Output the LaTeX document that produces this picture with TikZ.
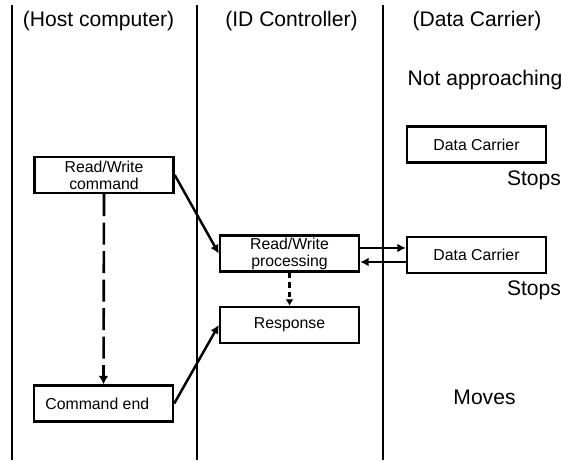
\documentclass[tikz,border=0pt]{standalone}
\usepackage{fontspec}
\setmainfont{Liberation Sans}
\usetikzlibrary{arrows.meta,calc,positioning}
\tikzset{
  box/.style={draw=black,fill=white,minimum width=2.78cm,minimum height=0.72cm,inner sep=0pt,line width=1.4pt,align=center,font=\fontsize{9}{9.7}\selectfont},
  lane/.style={black,line width=1.2pt},
  lab/.style={font=\fontsize{12}{14}\selectfont,inner sep=0pt},
  flow/.style={-{Latex[length=1.7mm,width=1.8mm]},line width=1.4pt},
  dflow/.style={-{Latex[length=1.7mm,width=2.0mm]},line width=1.5pt,dash pattern=on 4.4mm off 1.3mm},
  sflow/.style={-{Latex[length=1.3mm,width=1.6mm]},line width=1.4pt,dash pattern=on 1.1mm off 0.8mm},
}
\begin{document}
\begin{tikzpicture}[x=1cm,y=1cm]
\useasboundingbox (0,0) rectangle (11.24,9.22);
% ================= lanes =================
\foreach \x in {0.24,3.94,7.66}{
  \draw[lane] (\x,9.12) -- (\x,0.02);
}
\node[lab] (hhost) at (1.97,8.80) {(Host computer)};
\node[lab] (hctrl) at (5.83,8.80) {(ID Controller)};
\node[lab] (hcarr) at (9.54,8.80) {(Data Carrier)};

% ================= Data Carrier states =================
\node[lab] (napp) at (9.70,7.62) {Not approaching};
\node[box] (dc1) at (9.53,6.33) {Data Carrier};
\node[lab] (stop1) at (10.68,5.62) {Stops};
\node[box] (dc2) at (9.53,4.12) {Data Carrier};
\node[lab] (stop2) at (10.68,3.42) {Stops};
\node[lab] (moves) at (9.69,1.28) {Moves};

% ================= Host and controller =================
\node[box] (cmd) at (2.08,5.72) {Read/Write\\command};
\node[box] (cend) at (2.07,1.15) {Command end\hspace*{2.5mm}};
\node[box] (proc) at (5.79,4.15) {Read/Write\\processing};
\node[box] (resp) at (5.79,2.72) {Response};

% ================= connectors =================
\draw[flow] (cmd.east) -- (proc.west);
\draw[flow] ([yshift=1.4mm]dc2.west -| proc.east) -- ([yshift=1.4mm]dc2.west);
\draw[flow] ([yshift=-1.4mm]dc2.west) -- ([yshift=-1.4mm]dc2.west -| proc.east);
\draw[sflow] (proc.south) -- (resp.north);
\draw[dflow] (cmd.south) -- (cend.north);
\draw[flow] (cend.east) -- (resp.west);
\end{tikzpicture}
\end{document}
